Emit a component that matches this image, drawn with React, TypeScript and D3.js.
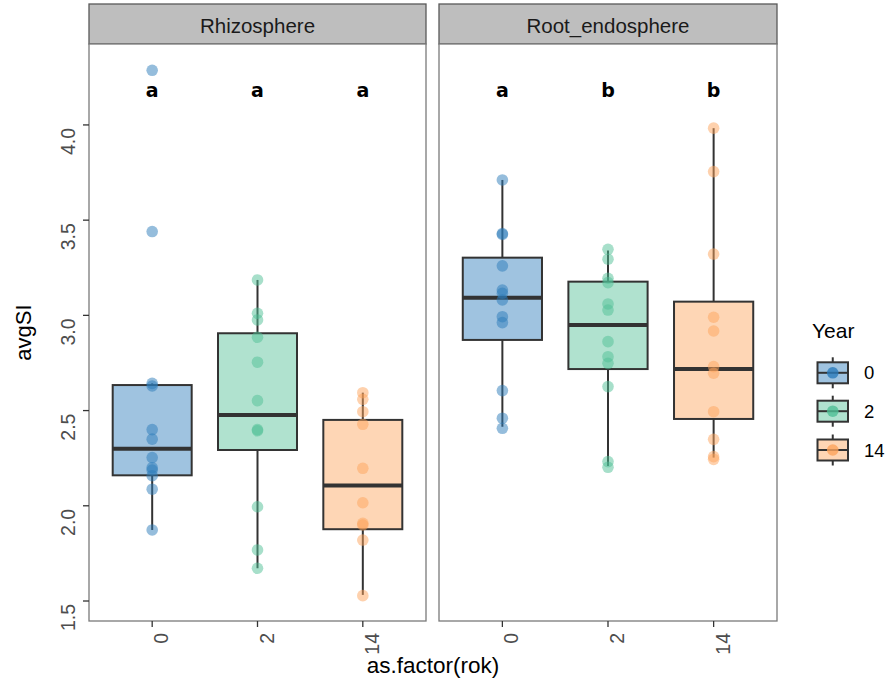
import React from 'react';
import * as d3 from 'd3';

// ---- data ----
const facets = ['Rhizosphere', 'Root_endosphere'];
const years = ['0', '2', '14'];
const yTicks = [1.5, 2.0, 2.5, 3.0, 3.5, 4.0];
const colors = ['#2b7bba', '#4fbf95', '#fda45c'];

const rhizo0 = [4.287, 3.44, 2.643, 2.629, 2.4, 2.35, 2.253, 2.2, 2.188, 2.158, 2.087, 1.873];
const rhizo2 = [3.186, 3.011, 2.976, 2.885, 2.754, 2.552, 2.4, 2.394, 1.995, 1.768, 1.672];
const rhizo14 = [2.594, 2.559, 2.494, 2.428, 2.197, 2.016, 1.908, 1.899, 1.82, 1.528];
const root0 = [3.711, 3.43, 3.425, 3.26, 3.133, 3.116, 3.081, 2.993, 2.962, 2.605, 2.46, 2.407];
const root2 = [3.347, 3.295, 3.195, 3.172, 3.06, 3.028, 2.862, 2.783, 2.748, 2.626, 2.232, 2.202];
const root14 = [3.983, 3.755, 3.322, 2.99, 2.918, 2.731, 2.696, 2.494, 2.349, 2.258, 2.244];

const rhizoLow = [1.873, 1.672, 1.532];
const rhizoQ1 = [2.16, 2.293, 1.877];
const rhizoMed = [2.3, 2.477, 2.106];
const rhizoQ3 = [2.634, 2.906, 2.451];
const rhizoHigh = [2.643, 3.186, 2.594];

const rootLow = [2.415, 2.209, 2.253];
const rootQ1 = [2.871, 2.718, 2.456];
const rootMed = [3.093, 2.95, 2.718];
const rootQ3 = [3.303, 3.177, 3.072];
const rootHigh = [3.711, 3.34, 3.983];

const rhizoLetters = ['a', 'a', 'a'];
const rootLetters = ['a', 'b', 'b'];
const letterValue = 4.2;

const facetData = [
  { name: facets[0], points: [rhizo0, rhizo2, rhizo14], low: rhizoLow, q1: rhizoQ1, med: rhizoMed, q3: rhizoQ3, high: rhizoHigh, letters: rhizoLetters },
  { name: facets[1], points: [root0, root2, root14], low: rootLow, q1: rootQ1, med: rootMed, q3: rootQ3, high: rootHigh, letters: rootLetters },
];

// ---- layout ----
const W = 886;
const H = 684;
const panelTop = 44;
const panelBottom = 621;
const stripTop = 4;
const panelX = [[89, 426], [439, 777]];
const FONT = '"Liberation Sans", Arial, Helvetica, sans-serif';
const BOX_ALPHA = 0.45;
const PT_ALPHA = 0.5;

const y = d3.scaleLinear().domain([1.395, 4.425]).range([panelBottom, panelTop]);

function Panel({ fi }: { fi: number }) {
  const f = facetData[fi];
  const [x0, x1] = panelX[fi];
  const x = d3.scalePoint<string>().domain(years).range([x0, x1]).padding(0.6);
  const bw = x.step() * 0.75;
  return (
    <g>
      {/* strip */}
      <rect x={x0} y={stripTop} width={x1 - x0} height={panelTop - stripTop} fill="#bebebe" stroke="#595959" strokeWidth={1.3} />
      <text x={(x0 + x1) / 2} y={32.5} textAnchor="middle" fontFamily={FONT} fontSize={20.5} fill="#1a1a1a">{f.name}</text>
      {/* panel bg */}
      <rect x={x0} y={panelTop} width={x1 - x0} height={panelBottom - panelTop} fill="#ffffff" />
      {years.map((yr, i) => {
        const cx = x(yr)!;
        return (
          <g key={'b' + yr}>
            <line x1={cx} x2={cx} y1={y(f.low[i])} y2={y(f.q1[i])} stroke="#333333" strokeWidth={2} />
            <line x1={cx} x2={cx} y1={y(f.q3[i])} y2={y(f.high[i])} stroke="#333333" strokeWidth={2} />
            <rect x={cx - bw / 2} y={y(f.q3[i])} width={bw} height={y(f.q1[i]) - y(f.q3[i])}
              fill={colors[i]} fillOpacity={BOX_ALPHA} stroke="#333333" strokeWidth={2} />
            <line x1={cx - bw / 2} x2={cx + bw / 2} y1={y(f.med[i])} y2={y(f.med[i])} stroke="#333333" strokeWidth={4} />
          </g>
        );
      })}
      {years.map((yr, i) =>
        f.points[i].map((v, j) => (
          <circle key={'p' + yr + '-' + j} cx={x(yr)!} cy={y(v)} r={5.8} fill={colors[i]} fillOpacity={PT_ALPHA} />
        ))
      )}
      {years.map((yr, i) => (
        <text key={'l' + yr} x={x(yr)!} y={y(letterValue) + 9.8} textAnchor="middle" fontFamily='"DejaVu Sans", sans-serif' fontWeight="bold" fontSize={19} fill="#000">{f.letters[i]}</text>
      ))}
      {/* panel border */}
      <rect x={x0} y={panelTop} width={x1 - x0} height={panelBottom - panelTop} fill="none" stroke="#7a7a7a" strokeWidth={1.3} />
      {/* x ticks */}
      {years.map((yr) => {
        const cx = x(yr)!;
        return (
          <g key={'xt' + yr}>
            <line x1={cx} x2={cx} y1={panelBottom} y2={panelBottom + 6} stroke="#333333" strokeWidth={1.3} />
            <text transform={`translate(${cx + 16},${panelBottom + 12}) rotate(-90)`} textAnchor="end" fontFamily={FONT} fontSize={19.5} fill="#4d4d4d">{yr}</text>
          </g>
        );
      })}
    </g>
  );
}

function Legend() {
  const kx = 817.5;
  const kw = 30.5;
  const kh = 21;
  const centers = [372.8, 411.2, 450];
  return (
    <g>
      <text x={812} y={338} fontFamily={FONT} fontSize={21} fill="#000">Year</text>
      {years.map((yr, i) => {
        const cy = centers[i];
        const cx = kx + kw / 2;
        return (
          <g key={'lg' + yr}>
            <line x1={cx} x2={cx} y1={cy - kh / 2 - 5} y2={cy + kh / 2 + 5} stroke="#333333" strokeWidth={2} />
            <rect x={kx} y={cy - kh / 2} width={kw} height={kh} fill="#fff" />
            <rect x={kx} y={cy - kh / 2} width={kw} height={kh} fill={colors[i]} fillOpacity={BOX_ALPHA} stroke="#333333" strokeWidth={2} />
            <line x1={kx} x2={kx + kw} y1={cy} y2={cy} stroke="#333333" strokeWidth={2} />
            <circle cx={cx} cy={cy} r={5.8} fill={colors[i]} fillOpacity={0.8} />
            <text x={864} y={cy + 6.5} fontFamily={FONT} fontSize={18.5} fill="#000">{yr}</text>
          </g>
        );
      })}
    </g>
  );
}

export default function App() {
  const x0 = panelX[0][0];
  return (
    <svg width={W} height={H} style={{ position: 'absolute', left: 0, top: 0, background: '#fff' }}>
      <rect x={0} y={0} width={W} height={H} fill="#fff" />
      <Panel fi={0} />
      <Panel fi={1} />
      {/* y axis */}
      {yTicks.map((t) => (
        <g key={'yt' + t}>
          <line x1={x0 - 6} x2={x0} y1={y(t)} y2={y(t)} stroke="#333333" strokeWidth={1.3} />
          <text transform={`translate(75,${y(t) + 3}) rotate(-90)`} textAnchor="end" fontFamily={FONT} fontSize={19.5} fill="#4d4d4d">{d3.format('.1f')(t)}</text>
        </g>
      ))}
      <text transform={`translate(31,${(panelTop + panelBottom) / 2}) rotate(-90)`} textAnchor="middle" fontFamily={FONT} fontSize={22} fill="#000">avgSI</text>
      <text x={(panelX[0][0] + panelX[1][1]) / 2} y={673} textAnchor="middle" fontFamily={FONT} fontSize={22.5} fill="#000">as.factor(rok)</text>
      <Legend />
    </svg>
  );
}
